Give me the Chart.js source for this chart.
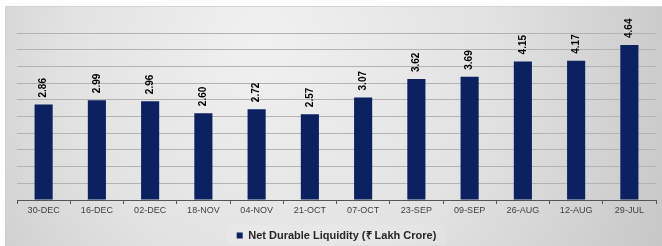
<!DOCTYPE html>
<html>
<head>
<meta charset="utf-8">
<script src="https://cdn.jsdelivr.net/npm/chart.js@4"></script>
<style>
  body { margin: 0; background: #fff; }
  canvas { display: block; }
</style>
</head>
<body>
<canvas id="liq" width="662" height="246"></canvas>
<script>
const dates = ["30-DEC", "16-DEC", "02-DEC", "18-NOV", "04-NOV", "21-OCT", "07-OCT", "23-SEP", "09-SEP", "26-AUG", "12-AUG", "29-JUL"];
const liquidity = [2.86, 2.99, 2.96, 2.60, 2.72, 2.57, 3.07, 3.62, 3.69, 4.15, 4.17, 4.64];
const seriesName = "Net Durable Liquidity (₹ Lakh Crore)";

const navy = "#0b2160";

// gray gradient panel behind everything, with white strip top/left
const panelBg = {
    id: "panelBg",
    beforeDraw(chart) {
        const ctx = chart.ctx;
        const w = chart.width, h = chart.height;
        ctx.save();
        ctx.fillStyle = "#ffffff";
        ctx.fillRect(0, 0, w, h);
        const g = ctx.createRadialGradient(260, 40, 10, 300, 80, 420);
        g.addColorStop(0, "#f0f0f0");
        g.addColorStop(0.5, "#e2e2e2");
        g.addColorStop(1, "#c4c4c4");
        ctx.fillStyle = g;
        ctx.fillRect(5, 6, w - 5, h - 6);
        ctx.strokeStyle = "#d4d4d4";
        ctx.lineWidth = 1;
        ctx.beginPath();
        ctx.moveTo(5.5, h);
        ctx.lineTo(5.5, 6.5);
        ctx.lineTo(w, 6.5);
        ctx.stroke();
        // faint legend backing box
        ctx.fillStyle = "rgba(255,255,255,0.12)";
        ctx.fillRect(227, 225, 220, 20);
        ctx.restore();
    }
};

// rotated value labels above each bar
const barValues = {
    id: "barValues",
    afterDatasetsDraw(chart) {
        const ctx = chart.ctx;
        const meta = chart.getDatasetMeta(0);
        ctx.save();
        ctx.font = "bold 10px 'Liberation Sans', Arial, sans-serif";
        ctx.fillStyle = "#000";
        ctx.textAlign = "left";
        ctx.textBaseline = "middle";
        meta.data.forEach((bar, i) => {
            ctx.save();
            ctx.translate(bar.x, bar.y - 7);
            ctx.rotate(-Math.PI / 2);
            ctx.fillText(liquidity[i].toFixed(2), 0, 0);
            ctx.restore();
        });
        ctx.restore();
    }
};

new Chart(document.getElementById("liq"), {
    type: "bar",
    data: {
        labels: dates,
        datasets: [{
            label: seriesName,
            data: liquidity,
            backgroundColor: navy,
            borderWidth: 0,
            barPercentage: 0.34,
            categoryPercentage: 1
        }]
    },
    options: {
        responsive: false,
        animation: false,
        layout: {
            padding: { top: 33, left: 17, right: 6, bottom: -5 }
        },
        plugins: {
            legend: {
                position: "bottom",
                labels: {
                    boxWidth: 6,
                    boxHeight: 6,
                    padding: 2,
                    color: "#262626",
                    font: { family: "'Liberation Sans', Arial, sans-serif", size: 11, weight: "bold" }
                }
            },
            tooltip: { enabled: false }
        },
        scales: {
            x: {
                afterFit(scale) {
                    scale.height = 28;  // extra gap between tick labels and legend
                },
                grid: {
                    offset: true,
                    drawOnChartArea: false,
                    drawTicks: true,
                    tickLength: 4,
                    color: "#555"
                },
                border: { display: true, color: "#555", width: 1 },
                ticks: {
                    color: "#404040",
                    padding: 1,
                    maxRotation: 0,
                    font: { family: "'Liberation Sans', Arial, sans-serif", size: 9 }
                }
            },
            y: {
                min: 0,
                max: 5,
                ticks: { display: false, stepSize: 0.5 },
                grid: { color: "#b3b3b3", drawTicks: false },
                border: { display: false }
            }
        }
    },
    plugins: [panelBg, barValues]
});
</script>
</body>
</html>
